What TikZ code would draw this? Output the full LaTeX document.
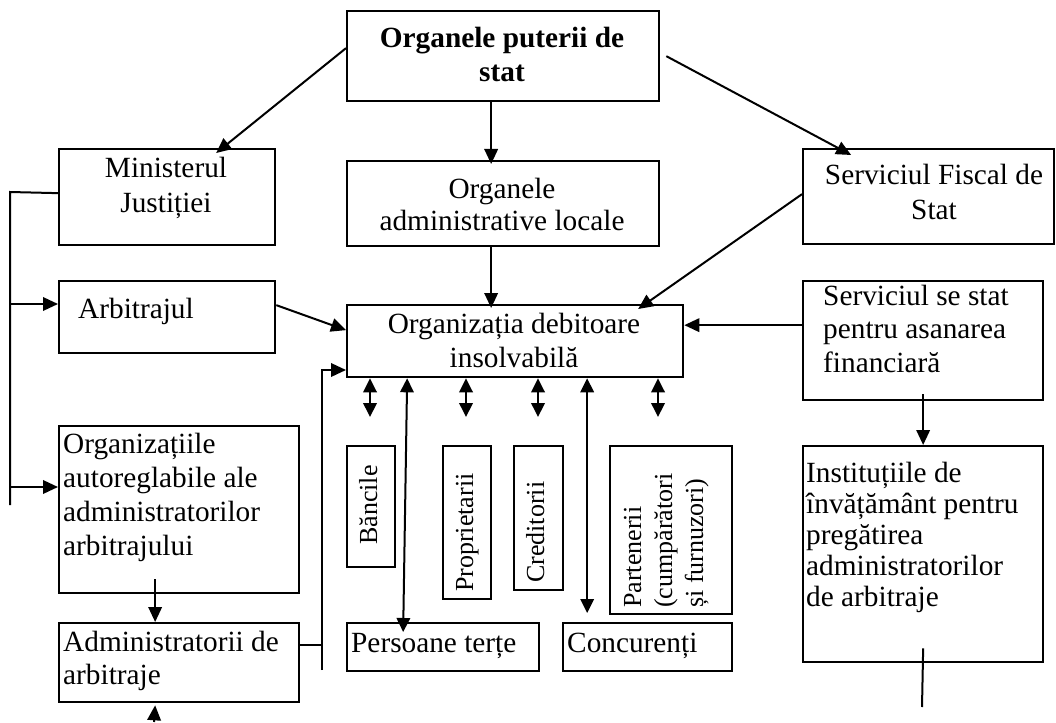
\documentclass[tikz,border=0pt]{standalone}
\usepackage{fontspec}
\setmainfont{Liberation Serif}
\usetikzlibrary{arrows.meta}
% box from its top-left to its bottom-right corner, in pixel-like units
\newcommand\mkbox[5]{\node[box, minimum width={(#4-#2)*1pt}, minimum height={(#5-#3)*1pt}] (#1) at (#2,#3) {};}
% block of lines: width, font size, line distance, text
\newcommand\textlines[4]{\parbox[t]{#1pt}{\fontsize{#2}{#3}\selectfont #4}}
\begin{document}
\begin{tikzpicture}[x=1pt,y=-1pt,
  box/.style={draw, line width=2.3pt, inner sep=0pt, anchor=north west},
  link/.style={line width=2pt},
  arr/.style={link, -{Triangle[length=15pt,width=13.5pt]}},
  dbl/.style={link, {Triangle[length=14pt,width=13.5pt]}-{Triangle[length=14pt,width=13.5pt]}},
  lbl/.style={inner sep=0pt, anchor=base west, font=\fontsize{29.3}{34}\selectfont},
  clbl/.style={inner sep=0pt, anchor=base, font=\fontsize{29.3}{34}\selectfont},
  rlbl/.style={inner sep=0pt, anchor=base west, rotate=90, font=\fontsize{26}{31}\selectfont},
]
\useasboundingbox (0,0) rectangle (1056,722);

% boxes
\mkbox{top}{346}{10}{658}{100}
\mkbox{admin}{346}{160}{658}{245}
\mkbox{minist}{58}{148}{274}{244}
\mkbox{fiscal}{802}{148}{1053}{243}
\mkbox{arbitr}{58}{280}{274}{352}
\mkbox{org}{346}{304}{682}{376}
\mkbox{svc}{802}{280}{1042}{399}
\mkbox{inst}{802}{445}{1042}{661}
\mkbox{auto}{58}{425}{298}{592}
\mkbox{admn}{58}{622}{298}{701}
\mkbox{banc}{346}{445}{394}{566}
\mkbox{prop}{442}{445}{490}{598}
\mkbox{cred}{513}{445}{562}{589}
\mkbox{part}{609}{445}{731}{613}
\mkbox{pers}{346}{622}{538}{670}
\mkbox{conc}{562}{622}{731}{670}

% texts
\node[clbl] (t-top) at (502,48) {\textlines{320}{29.3}{34}{\centering\bfseries Organele puterii de\\ stat}};
\node[clbl] (t-admin) at (502,198) {\textlines{320}{29.3}{32}{\centering Organele\\ administrative locale}};
\node[clbl] (t-minist) at (166,178) {\textlines{210}{29.3}{35}{\centering Ministerul\\ Justiției}};
\node[clbl] (t-fiscal) at (934,185) {\textlines{250}{29.3}{35}{\centering Serviciul Fiscal de\\ Stat}};
\node[lbl] (t-arbitr) at (78,318) {Arbitrajul};
\node[clbl] (t-org) at (514,333) {\textlines{330}{29.3}{34}{\centering Organizația debitoare\\ insolvabilă}};
\node[lbl] (t-svc) at (823,305) {\textlines{220}{29.3}{33.5}{\raggedright Serviciul se stat\\ pentru asanarea\\ financiară}};
\node[lbl] (t-inst) at (806,482) {\textlines{235}{29.3}{31}{\raggedright Instituțiile de\\ învățământ pentru\\ pregătirea\\ administratorilor\\ de arbitraje}};
\node[lbl] (t-auto) at (63,453) {\textlines{235}{29.3}{34}{\raggedright Organizațiile\\ autoreglabile ale\\ administratorilor\\ arbitrajului}};
\node[lbl] (t-admn) at (63,651) {\textlines{235}{29.3}{33}{\raggedright Administratorii de\\ arbitraje}};
\node[lbl] (t-pers) at (351,652) {Persoane terțe};
\node[lbl] (t-conc) at (567,652) {Concurenți};
\node[rlbl] (t-banc) at (377,545) {Băncile};
\node[rlbl] (t-prop) at (473,592) {Proprietarii};
\node[rlbl] (t-cred) at (544,583) {Creditorii};
\node[rlbl] (t-part) at (641,608) {\textlines{170}{26}{31}{\raggedright Partenerii\\ (cumpărători\\ și furnuzori)}};

% connectors from the top box
\draw[arr] ([yshift=8pt]top.west) -- ([xshift=49pt,yshift=-5pt]minist.north);
\draw[arr] ([xshift=6pt]top.east) -- ([xshift=-77.5pt,yshift=-7pt]fiscal.north);
\draw[arr] ([xshift=-12pt]top.south) -- ([xshift=-12pt,yshift=-4pt]admin.north);
\draw[arr] ([xshift=-12pt]admin.south) -- ([xshift=-24pt,yshift=-4pt]org.north);
\draw[arr] ([yshift=2.5pt]fiscal.west) -- ([xshift=123pt,yshift=-5pt]org.north);
\draw[arr] ([yshift=12pt]arbitr.east) -- ([yshift=11pt]org.west);
\draw[arr] ([yshift=15.5pt]svc.west) -- ([yshift=16pt]org.east);
\draw[arr] ([yshift=7pt]svc.south) -- (inst.north);
\coordinate (inst-end) at (922,707);
\draw[link] ([yshift=15pt]inst.south) -- (inst-end);

% left bus from the ministry
\coordinate (bus-top) at (10,192);
\coordinate (bus-bot) at (10,505);
\coordinate (j-arb) at (10,304);
\coordinate (j-auto) at (10,487);
\draw[link] ([yshift=4pt]minist.west) -- (bus-top) -- (bus-bot);
\draw[arr] (j-arb) -- (j-arb -| arbitr.west);
\draw[arr] (j-auto) -- (j-auto -| auto.west);
\draw[arr] ([xshift=-24pt,yshift=15pt]auto.south) -- ([xshift=-24pt]admn.north);
\coordinate (admn-in) at (154,722);
\draw[arr] (admn-in) -- ([xshift=-24pt,yshift=-2pt]admn.south);

% administrators to the debtor organisation
\coordinate (v-top) at (322,370);
\coordinate (v-mid) at (322,645);
\coordinate (v-bot) at (322,670);
\draw[link] (v-mid -| admn.east) -- (v-mid);
\draw[arr] (v-bot) -- (v-top) -- (v-top -| org.west);

% two-way links below the debtor organisation
\foreach \x/\n in {370/a,466/b,538/c,658/d}{
  \coordinate (d\n) at (\x,417);
  \draw[dbl] (d\n |- org.south) -- (d\n);
}
\draw[dbl] ([xshift=-108pt]org.south) -- ([xshift=-40pt,yshift=-10pt]pers.north);
\draw[dbl] ([xshift=72pt]org.south) -- ([xshift=-60.5pt,yshift=9pt]conc.north);
\end{tikzpicture}
\end{document}
